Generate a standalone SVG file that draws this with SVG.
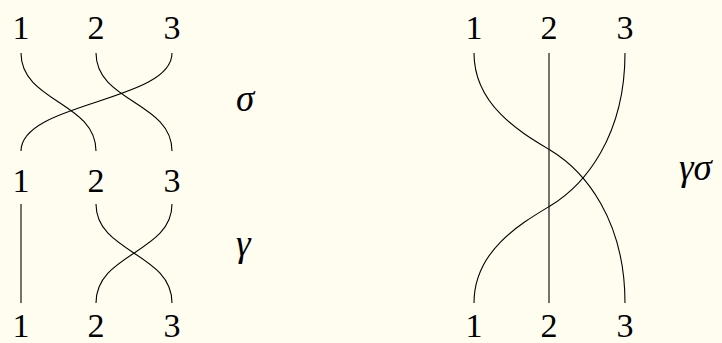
<svg xmlns="http://www.w3.org/2000/svg" width="722" height="343" viewBox="0 0 722 343">
<style>
.bg{fill:#fffdf0}
.s{fill:none;stroke:#000;stroke-width:1.1}
text{font-family:"Liberation Serif","DejaVu Serif",serif;fill:#000}
.n{font-size:34px;text-anchor:middle}
.g{font-size:37px;font-style:italic}
</style>
<rect class="bg" x="0" y="0" width="722" height="343"/>
<g id="labels-top-left">
<text class="n" x="21" y="39">1</text><text class="n" x="96" y="39">2</text><text class="n" x="172" y="39">3</text>
</g>
<g id="labels-mid-left">
<text class="n" x="21" y="192">1</text><text class="n" x="96" y="192">2</text><text class="n" x="172" y="192">3</text>
</g>
<g id="labels-bot-left">
<text class="n" x="21" y="337">1</text><text class="n" x="96" y="337">2</text><text class="n" x="172" y="337">3</text>
</g>
<g id="labels-top-right">
<text class="n" x="474" y="39">1</text><text class="n" x="549" y="39">2</text><text class="n" x="625" y="39">3</text>
</g>
<g id="labels-bot-right">
<text class="n" x="474" y="337">1</text><text class="n" x="549" y="337">2</text><text class="n" x="625" y="337">3</text>
</g>
<g id="sigma"><text class="g" x="236" y="111">σ</text></g>
<g id="gamma"><text class="g" x="236" y="256">γ</text></g>
<g id="gammasigma"><text class="g" x="679" y="180">γσ</text></g>
<g id="connectors">
<path class="s" d="M21,53 C21,102 96,102 96,151"/>
<path class="s" d="M96,53 C96,102 172,102 172,151"/>
<path class="s" d="M172,53 C172,102 21,102 21,151"/>
<path class="s" d="M21,204 L21,303"/>
<path class="s" d="M96,204 C96,253 172,253 172,303"/>
<path class="s" d="M172,204 C172,253 96,253 96,303"/>
<path class="s" d="M549,53 L549,303"/>
<path class="s" d="M474,53 C474,105 520,132 550,150 C585,171 625,220 625,303"/>
<path class="s" d="M625,53 C625,136 585,185 550,206 C520,224 474,251 474,303"/>
</g>
</svg>
